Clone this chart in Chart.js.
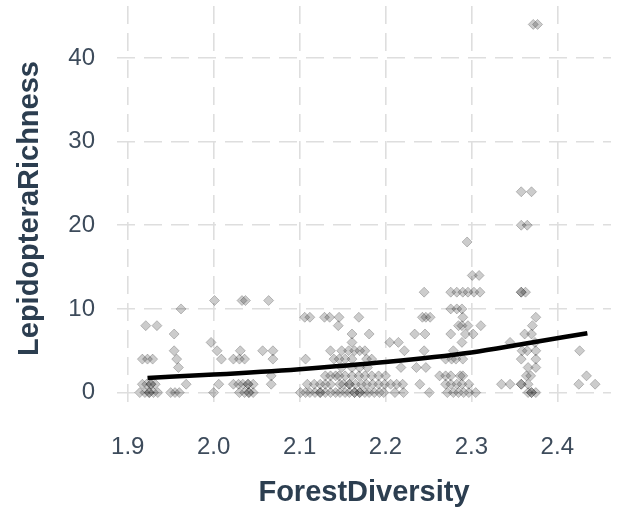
<!DOCTYPE html>
<html>
<head>
<meta charset="utf-8">
<script src="https://cdn.jsdelivr.net/npm/chart.js@4.4.1/dist/chart.umd.min.js"></script>
<style>
  body { margin: 0; background: #ffffff; }
  canvas { display: block; }
</style>
</head>
<body>
<canvas id="myChart" width="617" height="512"></canvas>
<script>
// ForestDiversity values of the sites, one array per LepidopteraRichness count
let richness0 = [1.914, 1.92, 1.925, 1.925, 1.93, 1.935, 1.95, 1.955, 1.96, 2.0, 2.03, 2.036, 2.041, 2.041, 2.046,
    2.101, 2.107, 2.112, 2.118, 2.124, 2.124, 2.13, 2.136, 2.142, 2.147, 2.153, 2.158, 2.164, 2.164, 2.17, 2.17,
    2.176, 2.181, 2.187, 2.193, 2.198, 2.211, 2.221, 2.251, 2.272, 2.279, 2.285, 2.291, 2.297, 2.305, 2.366, 2.37, 2.37, 2.375];
let richness1 = [1.917, 1.922, 1.927, 1.927, 1.932, 1.968, 2.006, 2.023, 2.029, 2.034, 2.04, 2.04, 2.046, 2.067,
    2.109, 2.117, 2.124, 2.13, 2.136, 2.147, 2.151, 2.158, 2.158, 2.165, 2.172, 2.178, 2.185, 2.192, 2.199, 2.206,
    2.213, 2.22, 2.24, 2.27, 2.276, 2.283, 2.289, 2.297, 2.335, 2.345, 2.358, 2.358, 2.366, 2.425, 2.444];
let richness2 = [2.067, 2.13, 2.136, 2.142, 2.146, 2.153, 2.161, 2.169, 2.176, 2.184, 2.192, 2.2, 2.263, 2.27, 2.276,
    2.287, 2.29, 2.364, 2.369, 2.434];
let richness3 = [1.959, 2.149, 2.161, 2.17, 2.179, 2.218, 2.236, 2.247, 2.366, 2.375];
let richness4 = [1.917, 1.923, 1.929, 1.957, 2.009, 2.023, 2.03, 2.036, 2.069, 2.107, 2.14, 2.146, 2.153, 2.161,
    2.178, 2.184, 2.27, 2.277, 2.282, 2.29, 2.358, 2.375];
let richness5 = [1.954, 2.004, 2.031, 2.057, 2.069, 2.136, 2.149, 2.157, 2.164, 2.17, 2.176, 2.222, 2.245, 2.279,
    2.359, 2.365, 2.375, 2.426];
let richness6 = [1.997, 2.161, 2.205, 2.215, 2.289, 2.345, 2.374];
let richness7 = [1.954, 2.161, 2.181, 2.234, 2.246, 2.276, 2.293, 2.302, 2.362, 2.37];
let richness8 = [1.921, 1.934, 2.145, 2.285, 2.289, 2.296, 2.311, 2.371];
let richness9 = [2.106, 2.112, 2.129, 2.135, 2.146, 2.169, 2.243, 2.247, 2.252, 2.29, 2.375];
let richness10 = [1.962, 2.276, 2.283, 2.289];
let richness11 = [2.001, 2.033, 2.037, 2.064];
let richness12 = [2.245, 2.276, 2.283, 2.29, 2.296, 2.303, 2.31, 2.358, 2.358, 2.363];
let richness14 = [2.301, 2.309];
let richness18 = [2.295];
let richness20 = [2.358, 2.365];
let richness24 = [2.358, 2.37];
let richness44 = [2.372, 2.377];

let richnessCounts = [0, 1, 2, 3, 4, 5, 6, 7, 8, 9, 10, 11, 12, 14, 18, 20, 24, 44];
let richnessGroups = [richness0, richness1, richness2, richness3, richness4, richness5, richness6, richness7,
    richness8, richness9, richness10, richness11, richness12, richness14, richness18, richness20, richness24, richness44];

// fitted curve
let fitDiversity = [1.923, 2.0, 2.1, 2.2, 2.3, 2.36, 2.435];
let fitRichness = [1.75, 2.15, 2.8, 3.65, 4.8, 5.8, 7.1];

// axis ticks
let xTicks = [1.9, 2.0, 2.1, 2.2, 2.3, 2.4];
let yTicks = [0, 10, 20, 30, 40];

let points = [];
richnessGroups.forEach(function(group, i) {
    group.forEach(function(x) {
        points.push({ x: x, y: richnessCounts[i] });
    });
});

let fitPoints = fitDiversity.map(function(x, i) {
    return { x: x, y: fitRichness[i] };
});

let tickColor = '#3d4b5b';
let titleColor = '#2c3e50';
let fontFamily = 'Liberation Sans, Arial, sans-serif';

// no extra room for the outer tick labels, the plot box is fixed
function noPadding(scale) {
    scale.paddingTop = 0;
    scale.paddingBottom = 0;
    scale.paddingLeft = 0;
    scale.paddingRight = 0;
}

let ctx = document.getElementById('myChart').getContext('2d');
let myChart = new Chart(ctx, {
    type: 'scatter',
    data: {
        datasets: [{
            type: 'line',
            data: fitPoints,
            showLine: true,
            borderColor: '#000000',
            borderWidth: 4.5,
            pointRadius: 0,
            fill: false,
            cubicInterpolationMode: 'monotone',
            order: 0
        }, {
            data: points,
            pointStyle: 'rectRot',
            pointRadius: 5,
            backgroundColor: 'rgba(0, 0, 0, 0.2)',
            borderColor: 'rgba(0, 0, 0, 0.22)',
            borderWidth: 1,
            order: 1
        }]
    },
    options: {
        responsive: false,
        animation: false,
        layout: { padding: { top: 5, right: 0, left: 0, bottom: 0 } },
        plugins: {
            legend: { display: false },
            tooltip: { enabled: false }
        },
        scales: {
            x: {
                type: 'linear',
                min: 1.8875,
                max: 2.4625,
                afterFit: function(scale) {
                    scale.height = 101;
                    noPadding(scale);
                },
                afterBuildTicks: function(scale) {
                    scale.ticks = xTicks.map(function(v) { return { value: v }; });
                },
                grid: { color: '#dedede', lineWidth: 1.6, drawTicks: false },
                border: { display: false, dash: [18, 9] },
                ticks: {
                    color: tickColor,
                    padding: 22,
                    maxRotation: 0,
                    font: { family: fontFamily, size: 24 },
                    callback: function(v) { return v.toFixed(1); }
                },
                title: {
                    display: true,
                    text: 'ForestDiversity',
                    color: titleColor,
                    padding: { top: 0, bottom: 2 },
                    font: { family: fontFamily, size: 29, weight: 'bold' }
                }
            },
            y: {
                type: 'linear',
                min: -2.2,
                max: 46.2,
                afterFit: function(scale) {
                    scale.width = 117;
                    noPadding(scale);
                },
                afterBuildTicks: function(scale) {
                    scale.ticks = yTicks.map(function(v) { return { value: v }; });
                },
                grid: { color: '#dedede', lineWidth: 1.6, drawTicks: false },
                border: { display: false, dash: [18, 9] },
                ticks: {
                    color: tickColor,
                    padding: 22,
                    font: { family: fontFamily, size: 24 }
                },
                title: {
                    display: true,
                    text: 'LepidopteraRichness',
                    color: titleColor,
                    padding: { top: 13, bottom: 0 },
                    font: { family: fontFamily, size: 29, weight: 'bold' }
                }
            }
        }
    }
});
</script>
</body>
</html>
